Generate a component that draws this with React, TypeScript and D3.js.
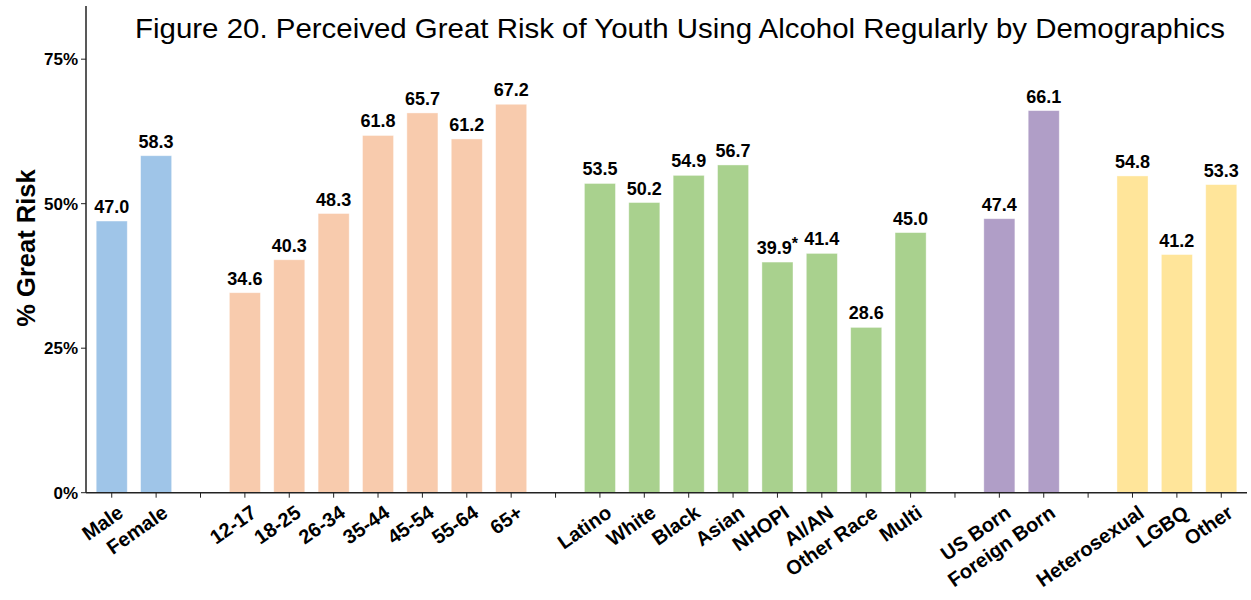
import React from "react";
import * as d3 from "d3";

const genderCats = ["Male", "Female"];
const genderVals = [47.0, 58.3];
const ageCats = ["12-17", "18-25", "26-34", "35-44", "45-54", "55-64", "65+"];
const ageVals = [34.6, 40.3, 48.3, 61.8, 65.7, 61.2, 67.2];
const raceCats = ["Latino", "White", "Black", "Asian", "NHOPI", "AI/AN", "Other Race", "Multi"];
const raceVals = [53.5, 50.2, 54.9, 56.7, 39.9, 41.4, 28.6, 45.0];
const nativityCats = ["US Born", "Foreign Born"];
const nativityVals = [47.4, 66.1];
const orientCats = ["Heterosexual", "LGBQ", "Other"];
const orientVals = [54.8, 41.2, 53.3];
const starred = ["NHOPI"];
const groupColors = ["#9fc5e8", "#f8cbad", "#a9d18e", "#b09ec7", "#ffe59a"];
const yTicks = [0, 25, 50, 75];

const title = "Figure 20. Perceived Great Risk of Youth Using Alcohol Regularly by Demographics";
const yLabel = "% Great Risk";

type Slot = { label: string; value: number | null; color: string };

const groups = [
  [genderCats, genderVals],
  [ageCats, ageVals],
  [raceCats, raceVals],
  [nativityCats, nativityVals],
  [orientCats, orientVals],
] as [string[], number[]][];

const slots: Slot[] = [];
groups.forEach(([cats, vals], gi) => {
  if (gi > 0) slots.push({ label: "", value: null, color: "none" });
  cats.forEach((c, i) => slots.push({ label: c, value: vals[i], color: groupColors[gi] }));
});

const W = 1251;
const H = 600;
const plotLeft = 86;
const plotRight = 1247;
const plotBottom = 492.7;
const plotTop = 6;

const x = d3
  .scaleLinear()
  .domain([-0.58, slots.length - 1 + 0.58])
  .range([plotLeft, plotRight]);
const y = d3.scaleLinear().domain([0, 84.2]).range([plotBottom, plotTop]);
const barW = (x(1) - x(0)) * 0.7;

const font = "'Liberation Sans', Arial, sans-serif";
const axisColor = "#222";
const angle = 35;

export default function App() {
  return (
    <svg
      width={W}
      height={H}
      style={{ position: "absolute", left: 0, top: 0, background: "#fff" }}
      fontFamily={font}
    >
      <rect x={0} y={0} width={W} height={H} fill="#fff" />
      <text
        x={135}
        y={38}
        fontSize={28}
        fill="#000"
        textLength={1090}
        lengthAdjust="spacingAndGlyphs"
      >
        {title}
      </text>
      {/* bars */}
      {slots.map((s, i) =>
        s.value === null ? null : (
          <g key={"b" + i}>
            <rect
              x={x(i) - barW / 2}
              y={y(s.value)}
              width={barW}
              height={plotBottom - y(s.value)}
              fill={s.color}
              stroke="#ffffff"
              strokeOpacity={0.5}
              strokeWidth={0.8}
            />
            <text
              x={x(i)}
              y={y(s.value) - 8}
              textAnchor="middle"
              fontSize={18}
              fontWeight="bold"
              fill="#000"
            >
              {d3.format(".1f")(s.value)}
              {starred.includes(s.label) ? (
                <tspan fontSize={16} dy={-5}>*</tspan>
              ) : null}
            </text>
          </g>
        )
      )}
      {/* axes */}
      <line x1={plotLeft} x2={plotLeft} y1={plotTop} y2={plotBottom} stroke={axisColor} strokeWidth={1.5} />
      <line x1={plotLeft} x2={plotRight} y1={plotBottom} y2={plotBottom} stroke={axisColor} strokeWidth={1.5} />
      {yTicks.map((t) => (
        <g key={"y" + t}>
          <line x1={plotLeft - 5} x2={plotLeft} y1={y(t)} y2={y(t)} stroke={axisColor} strokeWidth={1} />
          <text
            x={plotLeft - 8}
            y={y(t)}
            dy="0.36em"
            textAnchor="end"
            fontSize={17}
            fontWeight="bold"
            fill="#000"
          >
            {t + "%"}
          </text>
        </g>
      ))}
      {slots.map((s, i) => (
        <g key={"t" + i}>
          <line x1={x(i)} x2={x(i)} y1={plotBottom} y2={plotBottom + 5} stroke={axisColor} strokeWidth={1} />
          {s.label ? (
            <text
              transform={`translate(${x(i) + 13},${plotBottom + 23}) rotate(${-angle})`}
              textAnchor="end"
              fontSize={20}
              fontWeight="bold"
              fill="#000"
            >
              {s.label}
            </text>
          ) : null}
        </g>
      ))}
      <text
        transform={`translate(35,${248}) rotate(-90)`}
        textAnchor="middle"
        fontSize={25.5}
        fontWeight="bold"
        fill="#000"
      >
        {yLabel}
      </text>
    </svg>
  );
}
